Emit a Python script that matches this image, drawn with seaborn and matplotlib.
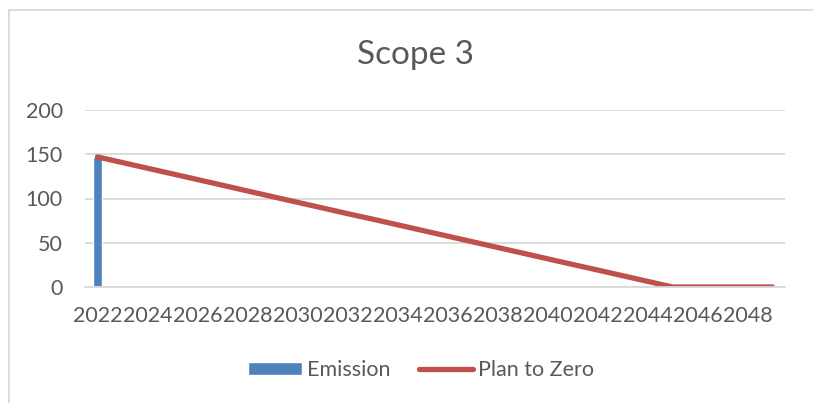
import numpy as np
import pandas as pd
import matplotlib
matplotlib.use('Agg')
import matplotlib.pyplot as plt
import seaborn as sns
from matplotlib.patches import Rectangle

sns.set_style('white')
plt.rcParams['font.family'] = ['Lato', 'DejaVu Sans']

# data
years = list(range(2022, 2050))
emission = [147] + [np.nan] * 27
plan_to_zero = [147, 140.6, 134.2, 127.8, 121.4, 115.0, 108.5, 102.1,
                95.7, 89.3, 82.9, 76.7, 70.3, 63.9, 57.5, 51.1,
                44.7, 38.3, 31.9, 25.5, 19.2, 12.8, 6.4, 0,
                0, 0, 0, 0]
tick_labels = [str(y) for y in years[::2]]

df = pd.DataFrame({'year': [str(y) for y in years],
                   'Emission': emission,
                   'Plan to Zero': plan_to_zero})
df['pos'] = range(len(df))

txt = '#595959'
fig = plt.figure(figsize=(8.13, 4.03), dpi=100)
ax = fig.add_axes([85 / 813, 116 / 403, 700 / 813, 177 / 403])

sns.barplot(data=df, x='year', y='Emission', color='#4F81BD', width=0.38,
            saturation=1, ax=ax, label='Emission')
sns.lineplot(data=df, x='pos', y='Plan to Zero', color='#C0504D', linewidth=3.8,
             ax=ax, label='Plan to Zero', solid_capstyle='round')

ax.set_xlim(-0.5, len(years) - 0.5)
ax.set_ylim(0, 200)
ax.set_yticks([0, 50, 100, 150, 200])
ax.set_xticks(range(0, len(years), 2))
ax.set_xticklabels(tick_labels)
ax.set_xlabel('')
ax.set_ylabel('')
ax.grid(axis='y', color='#D9D9D9', linewidth=1.3)
ax.set_axisbelow(True)
for s in ['top', 'right', 'left']:
    ax.spines[s].set_visible(False)
ax.spines['bottom'].set_color('#D9D9D9')
ax.spines['bottom'].set_linewidth(1.3)
ax.tick_params(axis='both', length=0, labelsize=15.5, labelcolor=txt)
ax.tick_params(axis='x', pad=14)
ax.tick_params(axis='y', pad=16)

fig.text(415 / 813, (403 - 55) / 403, 'Scope 3', ha='center', va='center',
         fontsize=24, color=txt)

handles, labels = ax.get_legend_handles_labels()
order = [labels.index('Emission'), labels.index('Plan to Zero')]
ax.legend([handles[i] for i in order], [labels[i] for i in order],
          loc='center', bbox_to_anchor=(421 / 813, 33 / 403),
          bbox_transform=fig.transFigure, ncol=2, frameon=False,
          fontsize=15.5, labelcolor=txt, handlelength=2.5, handleheight=0.6,
          columnspacing=1.3, handletextpad=0.25)

fig.patches.append(Rectangle((9 / 813, -0.1), 1.2, (403 - 10) / 403 + 0.1,
                             transform=fig.transFigure, fill=False,
                             edgecolor='#D9D9D9', linewidth=1.3))

fig.savefig('out.png', dpi=100)
